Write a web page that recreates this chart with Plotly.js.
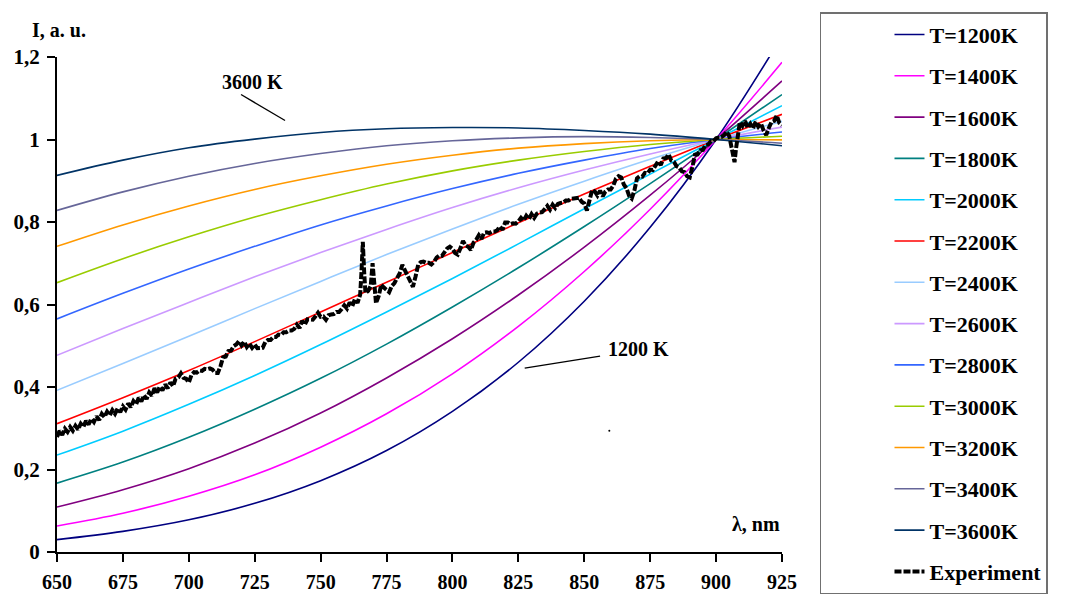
<!DOCTYPE html>
<html>
<head>
<meta charset="utf-8">
<script src="https://cdn.plot.ly/plotly-3.0.1.min.js"></script>
<style>
  html, body { margin: 0; padding: 0; background: #ffffff; }
  #chart { width: 1068px; height: 595px; }
</style>
</head>
<body>
<div id="chart"></div>
<script>
// ---------- DATA ----------
var wavelength = [650, 675, 700, 725, 750, 775, 800, 825, 850, 875, 900, 925];

var seriesNames = ["T=1200K", "T=1400K", "T=1600K", "T=1800K", "T=2000K", "T=2200K", "T=2400K",
                   "T=2600K", "T=2800K", "T=3000K", "T=3200K", "T=3400K", "T=3600K"];

var T1200 = [0.030, 0.050, 0.078, 0.118, 0.173, 0.246, 0.341, 0.460, 0.608, 0.787, 1.000, 1.250];
var T1400 = [0.063, 0.094, 0.135, 0.187, 0.254, 0.335, 0.432, 0.547, 0.680, 0.831, 1.000, 1.187];
var T1600 = [0.109, 0.151, 0.202, 0.264, 0.337, 0.422, 0.517, 0.623, 0.739, 0.865, 1.000, 1.142];
var T1800 = [0.167, 0.218, 0.278, 0.346, 0.421, 0.504, 0.594, 0.689, 0.789, 0.893, 1.000, 1.109];
var T2000 = [0.235, 0.293, 0.358, 0.428, 0.503, 0.582, 0.663, 0.747, 0.832, 0.916, 1.000, 1.082];
var T2200 = [0.311, 0.374, 0.440, 0.510, 0.582, 0.654, 0.726, 0.798, 0.868, 0.935, 1.000, 1.061];
var T2400 = [0.392, 0.457, 0.523, 0.590, 0.656, 0.721, 0.783, 0.843, 0.899, 0.952, 1.000, 1.044];
var T2600 = [0.477, 0.542, 0.605, 0.667, 0.726, 0.782, 0.835, 0.883, 0.926, 0.965, 1.000, 1.030];
var T2800 = [0.565, 0.627, 0.686, 0.741, 0.793, 0.839, 0.881, 0.918, 0.950, 0.978, 1.000, 1.018];
var T3000 = [0.653, 0.711, 0.764, 0.812, 0.854, 0.892, 0.924, 0.950, 0.971, 0.988, 1.000, 1.008];
var T3200 = [0.741, 0.793, 0.839, 0.879, 0.912, 0.940, 0.962, 0.979, 0.990, 0.997, 1.000, 0.999];
var T3400 = [0.828, 0.873, 0.911, 0.942, 0.966, 0.985, 0.997, 1.004, 1.007, 1.005, 1.000, 0.991];
var T3600 = [0.913, 0.950, 0.980, 1.001, 1.017, 1.026, 1.029, 1.028, 1.022, 1.013, 1.000, 0.985];

var expName = "Experiment";
var expX = [650,651,652,653,654,655,656,657,658,659,660,661,662,663,664,665,666,667,668,669,
            670,671,672,673,674,675,676,677,678,679,680,681,682,683,684,685,686,687,688,689,
            690,691,692,693,694,695,696,697,698,699,700,701,702,703,704,705,706,707,708,709,
            710,711,712,713,714,715,716,717,718,719,720,721,722,723,724,725,726,727,728,729,
            730,731,732,733,734,735,736,737,738,739,740,741,742,743,744,745,746,747,748,749,
            750,751,752,753,754,755,756,757,758,759,760,761,762,763,764,765,765.5,766,766.5,767,
            768,769,769.7,770.3,771,772,773,774,775,776,777,778,779,780,781,782,783,784,785,786,
            787,788,789,790,791,792,793,794,795,796,797,798,799,800,801,802,803,804,805,806,
            807,808,809,810,811,812,813,814,815,816,817,818,819,820,821,822,823,824,825,826,
            827,828,829,830,831,832,833,834,835,836,837,838,839,840,841,842,843,844,845,846,
            847,848,849,850,851,852,853,854,855,856,857,858,859,860,861,862,863,864,865,866,
            867,868,869,870,871,872,873,874,875,876,877,878,879,880,881,882,883,884,885,886,
            887,888,889,890,891,892,893,894,895,896,897,898,899,900,901,902,903,904,905,906,
            907,907.5,908,909,910,911,912,913,914,915,916,917,918,919,920,921,922,923,924,925];
var expY = [0.279,0.294,0.284,0.299,0.291,0.303,0.294,0.306,0.297,0.311,0.303,0.318,0.309,0.323,0.315,0.329,0.320,0.335,0.327,0.340,
            0.331,0.344,0.335,0.348,0.339,0.353,0.345,0.360,0.351,0.366,0.358,0.374,0.365,0.380,0.371,0.387,0.379,0.397,0.387,0.401,
            0.392,0.406,0.397,0.411,0.402,0.420,0.423,0.433,0.422,0.420,0.411,0.429,0.436,0.435,0.440,0.439,0.444,0.443,0.445,0.442,
            0.434,0.434,0.450,0.472,0.474,0.487,0.488,0.499,0.503,0.511,0.501,0.510,0.497,0.505,0.495,0.503,0.494,0.494,0.495,0.509,
            0.514,0.514,0.521,0.521,0.527,0.526,0.533,0.533,0.537,0.537,0.541,0.551,0.543,0.560,0.551,0.564,0.564,0.563,0.571,0.580,
            0.570,0.571,0.563,0.574,0.576,0.577,0.582,0.582,0.589,0.598,0.590,0.605,0.596,0.613,0.604,0.624,0.680,0.752,0.680,0.628,
            0.633,0.645,0.700,0.650,0.603,0.620,0.648,0.641,0.636,0.630,0.645,0.652,0.664,0.676,0.696,0.683,0.672,0.658,0.643,0.668,
            0.696,0.703,0.704,0.701,0.701,0.697,0.703,0.714,0.719,0.718,0.726,0.736,0.740,0.735,0.725,0.721,0.736,0.754,0.743,0.740,
            0.732,0.750,0.757,0.768,0.759,0.774,0.775,0.773,0.777,0.777,0.780,0.789,0.781,0.799,0.799,0.795,0.797,0.796,0.801,0.810,
            0.803,0.815,0.807,0.819,0.810,0.820,0.823,0.824,0.831,0.839,0.830,0.842,0.834,0.844,0.846,0.847,0.852,0.852,0.856,0.857,
            0.860,0.859,0.849,0.845,0.828,0.857,0.878,0.874,0.864,0.876,0.862,0.874,0.879,0.879,0.888,0.905,0.911,0.908,0.891,0.882,
            0.864,0.857,0.876,0.906,0.911,0.910,0.919,0.918,0.927,0.926,0.936,0.947,0.938,0.954,0.955,0.964,0.949,0.946,0.935,0.932,
            0.923,0.921,0.911,0.908,0.933,0.963,0.964,0.974,0.975,0.987,0.988,0.996,0.996,1.003,1.005,1.006,1.010,1.019,1.008,0.975,
            0.945,0.975,1.002,1.042,1.033,1.045,1.028,1.038,1.027,1.043,1.031,1.039,1.022,1.011,1.028,1.042,1.045,1.058,1.040,1.035];

// stray single dot visible in the picture
var strayX = [859.5];
var strayY = [0.294];

var xTickVals = [650, 675, 700, 725, 750, 775, 800, 825, 850, 875, 900, 925];
var xTickText = ["650", "675", "700", "725", "750", "775", "800", "825", "850", "875", "900", "925"];
var yTickVals = [0, 0.2, 0.4, 0.6, 0.8, 1, 1.2];
var yTickText = ["0", "0,2", "0,4", "0,6", "0,8", "1", "1,2"];

// ---------- STYLE ----------
var seriesColors = ["#000080", "#FF00FF", "#800080", "#008080", "#00CCFF", "#FF0000", "#99CCFF",
                    "#CC99FF", "#3366FF", "#99CC00", "#FF9900", "#666699", "#003366"];
var seriesValues = [T1200, T1400, T1600, T1800, T2000, T2200, T2400, T2600, T2800, T3000, T3200, T3400, T3600];

var FONT = "Liberation Serif, Times New Roman, serif";

var traces = [];
for (var i = 0; i < seriesValues.length; i++) {
  traces.push({
    type: "scatter", mode: "lines",
    x: wavelength, y: seriesValues[i],
    name: seriesNames[i], legendgroup: "g" + i,
    line: { color: seriesColors[i], width: 1.6, shape: "spline", smoothing: 1 },
    hoverinfo: "skip"
  });
}
traces.push({
  type: "scatter", mode: "lines",
  x: expX, y: expY, name: expName, legendgroup: "gexp",
  line: { color: "#000000", width: 4, dash: "7px,2px" },
  hoverinfo: "skip"
});
traces.push({
  type: "scatter", mode: "markers",
  x: strayX, y: strayY, showlegend: false,
  marker: { color: "#000000", size: 2 },
  hoverinfo: "skip"
});

var layout = {
  width: 1068, height: 595,
  margin: { l: 57, r: 286, t: 54, b: 43, pad: 0 },
  paper_bgcolor: "#ffffff", plot_bgcolor: "#ffffff",
  font: { family: FONT, size: 21, color: "#000000", weight: 700 },
  showlegend: true,
  xaxis: {
    range: [650, 925], tickvals: xTickVals, ticktext: xTickText,
    showgrid: false, zeroline: false, showline: true, linecolor: "#000000", linewidth: 2,
    ticks: "outside", ticklen: 8, tickwidth: 2, tickcolor: "#000000",
    tickfont: { family: FONT, size: 20, color: "#000000", weight: 700 },
    ticklabelstandoff: 3,
    fixedrange: true
  },
  yaxis: {
    range: [0, 1.2], tickvals: yTickVals, ticktext: yTickText,
    showgrid: false, zeroline: false, showline: true, linecolor: "#000000", linewidth: 2,
    ticks: "outside", ticklen: 8, tickwidth: 2, tickcolor: "#000000",
    tickfont: { family: FONT, size: 21, color: "#000000", weight: 700 },
    ticklabelstandoff: 3,
    fixedrange: true
  },
  legend: {
    x: 1.0524, xanchor: "left", y: 1.0905, yanchor: "top",
    bordercolor: "#707070", borderwidth: 1.5, bgcolor: "#ffffff",
    font: { family: FONT, size: 22, color: "#000000", weight: 700 },
    tracegroupgap: 9.7, indentation: 68, traceorder: "grouped",
    maxheight: 600
  },
  annotations: [
    { xref: "paper", yref: "paper", x: -0.037, y: 1.054, xanchor: "left", yanchor: "middle",
      text: "I, a. u.", showarrow: false, font: { family: FONT, size: 20, color: "#000", weight: 700 } },
    { xref: "paper", yref: "paper", x: 1, y: 0.056, xanchor: "right", yanchor: "middle",
      text: "λ, nm", showarrow: false, font: { family: FONT, size: 20, color: "#000", weight: 700 } },
    { xref: "x", yref: "y", x: 724.3, y: 1.14, xanchor: "center", yanchor: "middle",
      text: "3600 K", showarrow: false, font: { family: FONT, size: 20, color: "#000", weight: 700 } },
    { xref: "x", yref: "y", x: 870.4, y: 0.492, xanchor: "center", yanchor: "middle",
      text: "1200 K", showarrow: false, font: { family: FONT, size: 20, color: "#000", weight: 700 } }
  ],
  shapes: [
    { type: "line", xref: "x", yref: "y", x0: 719.8, y0: 1.109, x1: 736.5, y1: 1.046,
      line: { color: "#000", width: 1.3 } },
    { type: "line", xref: "x", yref: "y", x0: 827.4, y0: 0.446, x1: 856.0, y1: 0.475,
      line: { color: "#000", width: 1.3 } }
  ]
};

Plotly.newPlot("chart", traces, layout, { displayModeBar: false, staticPlot: true });
</script>
</body>
</html>
